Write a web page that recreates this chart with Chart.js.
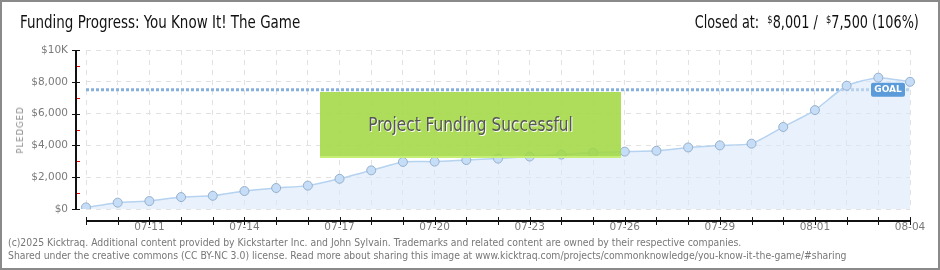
<!DOCTYPE html>
<html>
<head>
<meta charset="utf-8">
<script src="https://cdn.jsdelivr.net/npm/chart.js@4/dist/chart.umd.min.js"></script>
<style>
  body { margin: 0; background: #fff; }
  #wrap { position: relative; width: 940px; height: 270px; overflow: hidden; font-family: "Liberation Sans Narrow", "DejaVu Sans Condensed", sans-serif; }
  #frame { position: absolute; left: 0; top: 0; width: 940px; height: 270px; box-sizing: border-box; border: 2px solid #8a8a8a; pointer-events: none; }
  #title { position: absolute; left: 20px; top: 12px; font-size: 17px; color: #111; transform: scaleX(0.88); transform-origin: left center; white-space: nowrap; }
  #closed { position: absolute; right: 21px; top: 12px; font-size: 17px; color: #111; transform: scaleX(0.84); transform-origin: right center; white-space: nowrap; }
  #closed sup { font-size: 11px; vertical-align: 5px; }
  #ylab { position: absolute; left: 20px; top: 130px; transform: translate(-50%, -50%) rotate(-90deg); font-family: "DejaVu Sans", sans-serif; font-size: 8.5px; letter-spacing: 1px; color: #888; }
  .foot { position: absolute; left: 8px; font-size: 11px; color: #777; white-space: nowrap; transform: scaleX(0.94); transform-origin: left center; }
</style>
</head>
<body>
<div id="wrap">
  <canvas id="myChart" width="940" height="270"></canvas>
  <div id="title">Funding Progress: You Know It! The Game</div>
  <div id="closed">Closed at:&nbsp; <sup>$</sup>8,001 / &nbsp;<sup>$</sup>7,500 (106%)</div>
  <div id="ylab">PLEDGED</div>
  <div class="foot" style="top:236px">(c)2025 Kicktraq. Additional content provided by Kickstarter Inc. and John Sylvain. Trademarks and related content are owned by their respective companies.</div>
  <div class="foot" style="top:249px">Shared under the creative commons (CC BY-NC 3.0) license. Read more about sharing this image at www.kicktraq.com/projects/commonknowledge/you-know-it-the-game/#sharing</div>
  <div id="frame"></div>
</div>
<script>
// days of the campaign
var days = ["07-09", "07-10", "07-11", "07-12", "07-13", "07-14", "07-15", "07-16", "07-17",
    "07-18", "07-19", "07-20", "07-21", "07-22", "07-23", "07-24", "07-25", "07-26",
    "07-27", "07-28", "07-29", "07-30", "07-31", "08-01", "08-02", "08-03", "08-04"];

// pledged total per day
var pledged = [100, 400, 500, 750, 830, 1130, 1320, 1470, 1900,
    2430, 2960, 2980, 3080, 3170, 3300, 3420, 3550, 3610,
    3660, 3870, 4000, 4110, 5160, 6220, 7750, 8260, 8001];

var goal = 7500;
var yTicks = [0, 2000, 4000, 6000, 8000, 10000];
var successText = "Project Funding Successful";

// extra drawing: goal line, axes, success box
var extras = {
    id: "extras",
    beforeDatasetsDraw: function (chart) {
        var ctx = chart.ctx;
        var a = chart.chartArea;
        var y = chart.scales.y.getPixelForValue(goal);
        ctx.save();
        ctx.strokeStyle = "#86afdc";
        ctx.lineWidth = 3;
        ctx.setLineDash([3, 2]);
        ctx.beginPath();
        ctx.moveTo(a.left, y);
        ctx.lineTo(a.right, y);
        ctx.stroke();
        ctx.restore();
    },
    afterDatasetsDraw: function (chart) {
        var ctx = chart.ctx;
        var a = chart.chartArea;
        var xs = chart.scales.x;
        var ys = chart.scales.y;
        ctx.save();
        ctx.globalAlpha = 1;
        ctx.globalCompositeOperation = "source-over";

        // y axis
        ctx.fillStyle = "#111";
        ctx.fillRect(75, 50, 2, 160);
        for (var v = 0; v <= 10000; v += 1000) {
            var py = Math.round(ys.getPixelForValue(v));
            if (v % 2000 == 0) {
                ctx.fillStyle = "#111";
                ctx.fillRect(72, py, 8, 1);
            } else {
                ctx.fillStyle = "#e00";
                ctx.fillRect(77, py, 3, 1);
            }
        }

        // x axis
        ctx.fillStyle = "#111";
        ctx.fillRect(86, 220, 825, 2);
        for (var i = 0; i < days.length; i++) {
            var px = Math.round(xs.getPixelForValue(i));
            ctx.fillRect(px, 217, 1, 8);
        }

        // success box
        ctx.fillStyle = "rgba(162, 216, 68, 0.88)";
        ctx.fillRect(320, 92, 301, 66);
        ctx.fillStyle = "rgba(200, 240, 120, 0.9)";
        ctx.fillRect(320, 156, 301, 2);
        ctx.font = "19px 'Liberation Sans Narrow', 'DejaVu Sans Condensed', sans-serif";
        ctx.textAlign = "center";
        ctx.textBaseline = "middle";
        ctx.save();
        ctx.translate(470.5, 126.5);
        ctx.scale(0.9, 1);
        ctx.fillStyle = "#fff";
        ctx.fillText(successText, 1, 1);
        ctx.fillStyle = "#555";
        ctx.fillText(successText, 0, 0);
        ctx.restore();

        // goal tag
        var gy = ys.getPixelForValue(goal);
        ctx.fillStyle = "#5b9bd9";
        ctx.beginPath();
        ctx.roundRect(871, gy - 7, 34, 14, 2);
        ctx.fill();
        ctx.fillStyle = "#fff";
        ctx.font = "bold 9px 'DejaVu Sans', sans-serif";
        ctx.fillText("GOAL", 888, gy);
        ctx.restore();
    }
};

var canvas = document.getElementById("myChart");
var myChart = new Chart(canvas.getContext("2d"), {
    type: "line",
    data: {
        labels: days,
        datasets: [{
            label: "Pledged",
            data: pledged,
            borderColor: "#b5d2f0",
            borderWidth: 1.5,
            backgroundColor: "rgba(218, 233, 250, 0.6)",
            fill: "origin",
            tension: 0.2,
            pointRadius: 4.5,
            pointBackgroundColor: "#c5ddf7",
            pointBorderColor: "#96afcc",
            pointBorderWidth: 1
        }]
    },
    options: {
        responsive: false,
        devicePixelRatio: 1,
        animation: false,
        layout: { padding: { left: 0, right: 30, top: 50, bottom: 31 } },
        plugins: { legend: { display: false }, tooltip: { enabled: false } },
        scales: {
            x: {
                afterFit: function (s) { s.height = 30; },
                grid: { color: "#e2e2e2", drawTicks: false, tickLength: 0 },
                border: { display: false, dash: [5, 5] },
                ticks: {
                    autoSkip: false,
                    maxRotation: 0,
                    padding: 12,
                    color: "#7a7a7a",
                    font: { family: "DejaVu Sans", size: 10.5 },
                    callback: function (val, idx) {
                        return idx % 3 == 2 ? days[idx] : "";
                    }
                }
            },
            y: {
                min: 0,
                max: 10000,
                afterFit: function (s) { s.width = 86; },
                afterBuildTicks: function (s) {
                    s.ticks = yTicks.map(function (v) { return { value: v }; });
                },
                grid: { color: "#e2e2e2", drawTicks: false, tickLength: 0 },
                border: { display: false, dash: [5, 5] },
                ticks: {
                    padding: 18,
                    color: "#7a7a7a",
                    font: { family: "DejaVu Sans", size: 10.5 },
                    callback: function (v) {
                        if (v == 10000) return "$10K";
                        return "$" + v.toLocaleString("en-US");
                    }
                }
            }
        }
    },
    plugins: [extras]
});
</script>
</body>
</html>
